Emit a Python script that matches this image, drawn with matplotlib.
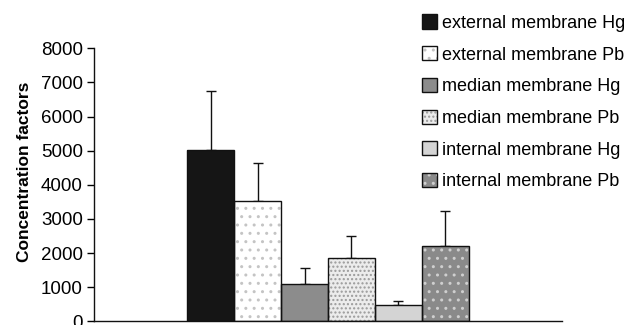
import matplotlib.pyplot as plt

plt.rcParams['font.family'] = ['Liberation Sans', 'DejaVu Sans']

labels = ["external membrane Hg", "external membrane Pb", "median membrane Hg",
          "median membrane Pb", "internal membrane Hg", "internal membrane Pb"]
means = [5030, 3530, 1095, 1855, 470, 2210]
errors = [1730, 1120, 460, 655, 135, 1015]

faces = ["#151515", "#ffffff", "#8c8c8c", "#ececec", "#d4d4d4", "#8a8a8a"]
dots = ["#151515", "#c4c4c4", "#8c8c8c", "#9a9a9a", "#d4d4d4", "#cfcfcf"]
hatches = [None, "..", None, "....", None, ".."]

fig = plt.figure(figsize=(6.29, 3.25), dpi=100)
ax = fig.add_axes([94 / 629, (325 - 321.4) / 325, (562 - 94) / 629, (321.4 - 48.3) / 325])

x = list(range(len(means)))
handles = []
for i in x:
    fill = ax.bar(i, means[i], width=1.0, color=faces[i], edgecolor=dots[i],
                  hatch=hatches[i], linewidth=0, zorder=2)
    outline = ax.bar(i, means[i], width=1.0, fill=False, edgecolor="#111111",
                     linewidth=1.0, zorder=3)
    handles.append((fill[0], outline[0]))

ax.errorbar(x, means, yerr=[[0] * len(errors), errors], fmt="none",
            ecolor="#111111", elinewidth=1.0, capsize=3.5, capthick=1.0, zorder=1)

ax.set_xlim(-2.48, 7.48)
ax.set_ylim(0, 8000)
ax.set_yticks(range(0, 8001, 1000))
ax.set_xticks([])
ax.tick_params(axis="y", labelsize=13.5, length=5, width=1, direction="out", pad=3)
ax.set_ylabel("Concentration factors", fontsize=12.5, fontweight="bold")
ax.yaxis.set_label_coords(-0.133, 0.548)
for side in ("top", "right"):
    ax.spines[side].set_visible(False)
for side in ("left", "bottom"):
    ax.spines[side].set_linewidth(1.0)
    ax.spines[side].set_color("#111111")

fig.legend(handles, labels, loc="upper left", bbox_to_anchor=(422 / 629, 1 - 14.5 / 325),
           frameon=False, fontsize=13, handlelength=0.82, handleheight=0.82,
           handletextpad=0.3, labelspacing=0.80, borderpad=0, borderaxespad=0)

fig.savefig("out.png", dpi=100)
